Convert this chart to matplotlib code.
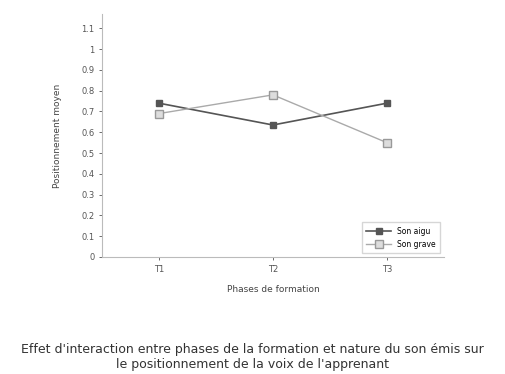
import matplotlib
matplotlib.use("Agg")
import matplotlib.pyplot as plt

phases = ["T1", "T2", "T3"]
serie_a = [0.74, 0.635, 0.74]
serie_b = [0.69, 0.78, 0.55]
noms = ["Son aigu", "Son grave"]
yticks = [0, 0.1, 0.2, 0.3, 0.4, 0.5, 0.6, 0.7, 0.8, 0.9, 1, 1.1]

fig = plt.figure(figsize=(5.05, 3.74), dpi=100)
ax = fig.add_axes([0.202, 0.313, 0.677, 0.65])

x = range(1, len(phases) + 1)
ax.plot(x, serie_a, color="#555555", lw=1.2, marker="s", ms=5,
        mfc="#555555", mec="#555555", label=noms[0])
ax.plot(x, serie_b, color="#aaaaaa", lw=1.0, marker="s", ms=6,
        mfc="#dddddd", mec="#999999", label=noms[1])

ax.set_xlim(0.5, 3.5)
ax.set_ylim(0, 1.17)
ax.set_xticks(list(x))
ax.set_xticklabels(phases, fontsize=6)
ax.set_yticks(yticks)
ax.set_yticklabels([str(v) for v in yticks], fontsize=6)
ax.tick_params(length=2, width=0.6, colors="#555555")
for s in ("top", "right"):
    ax.spines[s].set_visible(False)
for s in ("left", "bottom"):
    ax.spines[s].set_color("#bbbbbb")
    ax.spines[s].set_linewidth(0.8)

ax.set_xlabel("Phases de formation", fontsize=6.5, color="#444444", labelpad=8)
ax.set_ylabel("Positionnement moyen", fontsize=6.5, color="#444444", labelpad=14)

ax.legend(loc="lower right", fontsize=5.5, frameon=True, edgecolor="#cccccc",
          fancybox=False, handlelength=3.2, borderpad=0.6)

fig.text(0.5, 0.045,
         "Effet d'interaction entre phases de la formation et nature du son émis sur\n"
         "le positionnement de la voix de l'apprenant",
         ha="center", va="center", fontsize=9, color="#333333", linespacing=1.25)

fig.savefig("out.png", dpi=100)
